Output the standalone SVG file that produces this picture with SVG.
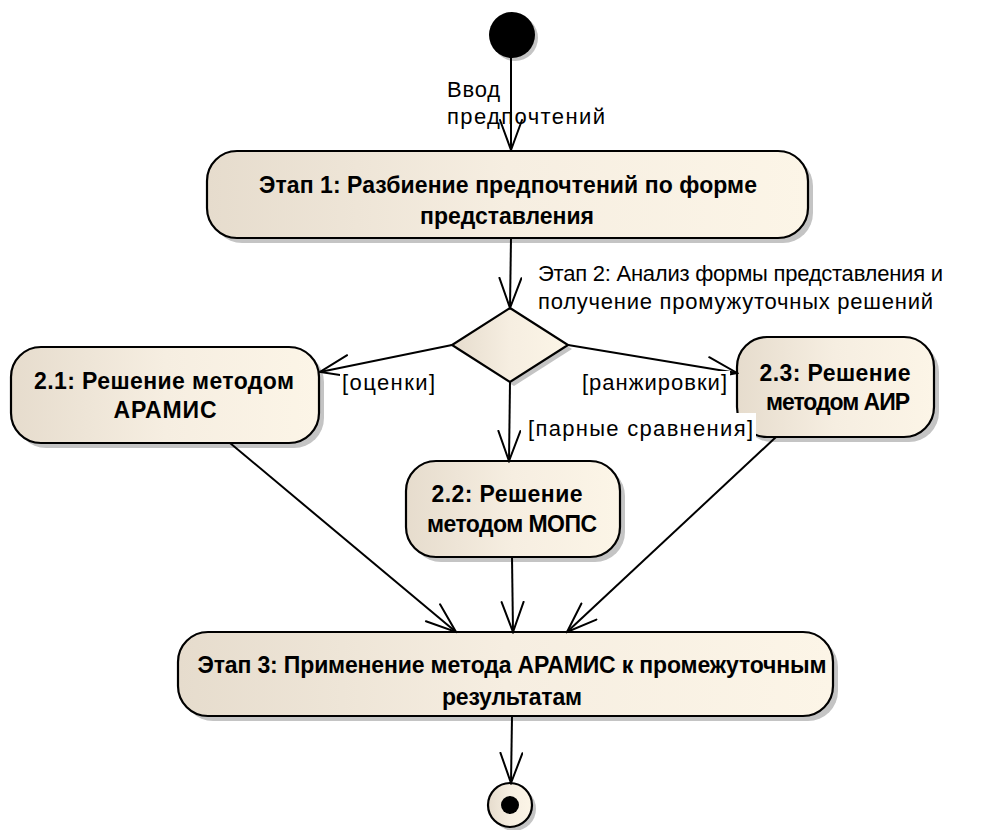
<svg xmlns="http://www.w3.org/2000/svg" width="999" height="830" viewBox="0 0 999 830">
<style>
.node{fill:url(#g);stroke:#000;stroke-width:2.2}
.shadow{fill:#c4c4c4}
.edge{fill:none;stroke:#000;stroke-width:2;marker-end:url(#arr)}
.t{font-family:"Liberation Sans",Arial,sans-serif;font-size:22px;fill:#000}
.b{font-family:"Liberation Sans",Arial,sans-serif;font-size:23px;font-weight:bold;fill:#000;text-anchor:middle}
.bg{fill:#fff}
</style>
<defs>
<linearGradient id="g" x1="0" y1="0" x2="1" y2="0">
<stop offset="0" stop-color="#e6dccd"/>
<stop offset="0.5" stop-color="#f6eee1"/>
<stop offset="1" stop-color="#fcf5e7"/>
</linearGradient>
<marker id="arr" markerUnits="userSpaceOnUse" viewBox="0 0 33 26" markerWidth="33" markerHeight="26" refX="31" refY="12" orient="auto">
<path d="M1,1 L31,12 L1,23" fill="none" stroke="#000" stroke-width="2" stroke-linecap="round"/>
</marker>
</defs>

<g id="start">
<circle cx="515" cy="38" r="23" class="shadow"/>
<circle cx="512" cy="35" r="23" fill="#000"/>
</g>

<g id="stage1">
<rect x="212" y="156" width="601" height="87" rx="30" class="shadow"/>
<rect x="207" y="151" width="601" height="87" rx="30" class="node"/>
<text class="b" x="508" y="193" textLength="498">Этап 1: Разбиение предпочтений по форме</text>
<text class="b" x="507" y="224" textLength="174">представления</text>
</g>

<g id="decision">
<polygon points="514,312 572,349 514,386 456,349" class="shadow"/>
<polygon points="510,308 568,345 510,382 452,345" class="node"/>
</g>

<g id="node21">
<rect x="16" y="352" width="308" height="96" rx="30" class="shadow"/>
<rect x="11" y="347" width="308" height="96" rx="30" class="node"/>
<text class="b" x="164" y="389" textLength="260">2.1: Решение методом</text>
<text class="b" x="165" y="418" textLength="103">АРАМИС</text>
</g>

<g id="node22">
<rect x="411" y="466" width="214" height="96" rx="30" class="shadow"/>
<rect x="406" y="461" width="214" height="96" rx="30" class="node"/>
<text class="b" x="507" y="502" textLength="151">2.2: Решение</text>
<text class="b" x="512" y="532" textLength="170">методом МОПС</text>
</g>

<g id="node23">
<rect x="742" y="342" width="197" height="100" rx="30" class="shadow"/>
<rect x="737" y="337" width="197" height="100" rx="30" class="node"/>
<text class="b" x="835" y="381" textLength="151">2.3: Решение</text>
<text class="b" x="838" y="410" textLength="144">методом АИР</text>
</g>

<g id="stage3">
<rect x="183" y="637" width="655" height="84" rx="30" class="shadow"/>
<rect x="178" y="632" width="655" height="84" rx="30" class="node"/>
<text class="b" x="512" y="673" textLength="629">Этап 3: Применение метода АРАМИС к промежуточным</text>
<text class="b" x="512" y="705" textLength="140">результатам</text>
</g>

<g id="end">
<circle cx="514" cy="809" r="22" class="shadow"/>
<circle cx="510" cy="805" r="22" class="node" stroke-width="2.5"/>
<circle cx="510" cy="805" r="9" fill="#000"/>
</g>

<g id="connectors">
<path class="edge" d="M511,58 L511,150"/>
<path class="edge" d="M511,238 L510,308"/>
<path class="edge" d="M452,345 L320,372"/>
<path class="edge" d="M568,345 L737,373"/>
<path class="edge" d="M510,382 L509,461"/>
<path class="edge" d="M230,443 L456,632"/>
<path class="edge" d="M512,557 L513,632"/>
<path class="edge" d="M776,437 L567,632"/>
<path class="edge" d="M512,716 L511,783"/>
</g>

<g id="labels">
<text class="t" x="447" y="97" textLength="53">Ввод</text>
<text class="t" x="447" y="124" textLength="158">предпочтений</text>
<text class="t" x="538" y="281" textLength="405">Этап 2: Анализ формы представления и</text>
<text class="t" x="538" y="309" textLength="395">получение промужуточных решений</text>
<rect class="bg" x="340" y="373" width="97" height="24"/>
<text class="t" x="342" y="390" textLength="93">[оценки]</text>
<rect class="bg" x="580" y="371" width="150" height="26"/>
<text class="t" x="582" y="390" textLength="145">[ранжировки]</text>
<rect class="bg" x="526" y="413" width="230" height="29"/>
<text class="t" x="528" y="436" textLength="225">[парные сравнения]</text>
</g>
</svg>
